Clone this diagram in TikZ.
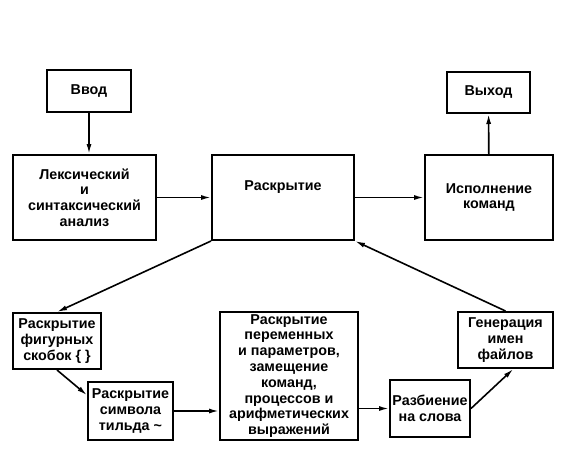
\documentclass[tikz,border=0pt]{standalone}
\usepackage{fontspec}
\setmainfont{Liberation Sans}
\usetikzlibrary{arrows.meta}

\begin{document}
\begin{tikzpicture}[
				x=1pt, y=-1pt,
				box/.style={draw, line width=2pt, align=center, inner sep=2pt,
					font=\bfseries\fontsize{14.3}{15.8}\selectfont},
				arrow/.style={-{Latex[length=10pt,width=5pt]}, line width=1.6pt}
			]
			\useasboundingbox (0,0) rectangle (569,453);

			% Top row
			\node[box, minimum width=84pt, minimum height=42pt] (vvod) at (89,91) {Ввод};
			\node[box, minimum width=143pt, minimum height=85pt] (leks) at (84.5,197.5) {Лексический\\и\\синтаксический\\анализ};
			\node[box, minimum width=142pt, minimum height=85pt] (rask) at (283,197.5) {Раскрытие\\[8pt]};
			\node[box, minimum width=128pt, minimum height=85pt] (ispoln) at (489,197.5) {Исполнение\\команд};
			\node[box, minimum width=83pt, minimum height=41pt] (vyhod) at (488.5,92.5) {Выход};

			% Bottom row
			\node[box, minimum width=88pt, minimum height=56pt] (figur) at (57,341) {Раскрытие\\фигурных\\скобок \{ \}};
			\node[box, minimum width=85pt, minimum height=58pt] (tilda) at (130.5,411) {Раскрытие\\символа\\тильда \char`\~};
			\node[box, minimum width=138pt, minimum height=128pt] (perem) at (289,376) {Раскрытие\\переменных\\и параметров,\\замещение\\команд,\\процессов и\\арифметических\\выражений};
			\node[box, minimum width=80pt, minimum height=57pt] (razb) at (430,408.5) {Разбиение\\на слова};
			\node[box, minimum width=95pt, minimum height=56pt] (gener) at (505.5,340) {Генерация\\имен\\файлов};

			% Arrows
			\draw[arrow] (vvod.south) -- (vvod.south |- leks.north);
			\draw[arrow] (leks) -- (rask);
			\draw[arrow] (rask) -- (ispoln);
			\draw[arrow] (ispoln) -- (vyhod);
			\draw[arrow] (rask.south west) -- (figur.north);
			\draw[arrow] (figur.south) -- (tilda.160);
			\draw[arrow] (tilda.east) -- (tilda.east -| perem.west);
			\draw[arrow] (perem.east |- razb.west) -- (razb.west);
			\draw[arrow] (razb.east) -- (gener.-75);
			\draw[arrow] (gener.north) -- (rask.south east);

		\end{tikzpicture}
\end{document}
